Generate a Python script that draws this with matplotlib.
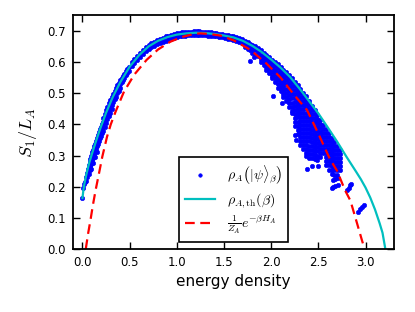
import matplotlib
matplotlib.use("Agg")
import matplotlib.pyplot as plt

plt.rcParams["font.family"] = "DejaVu Sans"
plt.rcParams["mathtext.fontset"] = "cm"
plt.rcParams["lines.scale_dashes"] = False

# thermal entropy curve rho_A,th(beta)
thermal_x = [0.00, 0.01, 0.02, 0.04, 0.07, 0.10, 0.14, 0.19, 0.25, 0.32, 0.40, 0.50,
             0.60, 0.70, 0.80, 0.90, 1.00, 1.10, 1.20, 1.30, 1.40, 1.50, 1.60, 1.70,
             1.80, 1.90, 2.00, 2.10, 2.20, 2.30, 2.40, 2.50, 2.60, 2.70, 2.80, 2.90,
             2.95, 3.00, 3.05, 3.10, 3.15, 3.18, 3.21]
thermal_y = [0.163, 0.190, 0.208, 0.238, 0.275, 0.305, 0.343, 0.388, 0.437, 0.487, 0.535, 0.585,
             0.622, 0.650, 0.668, 0.680, 0.688, 0.692, 0.694, 0.693, 0.690, 0.685, 0.679, 0.668,
             0.652, 0.632, 0.608, 0.582, 0.552, 0.515, 0.475, 0.435, 0.390, 0.344, 0.295, 0.248,
             0.224, 0.197, 0.165, 0.127, 0.082, 0.052, 0.000]

# Gibbs state 1/Z_A exp(-beta H_A)
gibbs_x = [0.035, 0.06, 0.085, 0.11, 0.14, 0.18, 0.21, 0.26, 0.30, 0.35, 0.44, 0.55, 0.68,
           0.80, 0.93, 1.05, 1.18, 1.25, 1.35, 1.46, 1.60, 1.78, 1.95, 2.10, 2.25, 2.38,
           2.50, 2.62, 2.70, 2.78, 2.84, 2.92, 2.96, 2.99]
gibbs_y = [0.000, 0.050, 0.093, 0.140, 0.190, 0.250, 0.296, 0.360, 0.400, 0.440, 0.505, 0.560,
           0.607, 0.640, 0.665, 0.680, 0.690, 0.692, 0.690, 0.685, 0.670, 0.639, 0.595, 0.550,
           0.492, 0.446, 0.370, 0.290, 0.250, 0.190, 0.155, 0.072, 0.030, 0.000]

dots_rise = [
    (0.000, 0.163), (0.010, 0.195), (0.020, 0.208), (0.025, 0.216),
    (0.035, 0.230), (0.035, 0.218), (0.045, 0.244), (0.045, 0.230),
    (0.055, 0.257), (0.055, 0.243), (0.065, 0.269), (0.065, 0.255), (0.065, 0.241),
    (0.075, 0.280), (0.075, 0.266), (0.075, 0.252), (0.085, 0.290), (0.085, 0.276), (0.085, 0.262),
    (0.095, 0.300), (0.095, 0.286), (0.095, 0.272), (0.095, 0.258),
    (0.105, 0.310), (0.105, 0.296), (0.105, 0.282),
    (0.115, 0.319), (0.115, 0.305), (0.115, 0.291), (0.115, 0.276),
    (0.125, 0.329), (0.125, 0.315), (0.125, 0.301),
    (0.135, 0.338), (0.135, 0.324), (0.135, 0.310), (0.135, 0.296),
    (0.145, 0.348), (0.145, 0.334), (0.145, 0.320),
    (0.155, 0.357), (0.155, 0.343), (0.155, 0.329), (0.155, 0.312),
    (0.165, 0.366), (0.165, 0.352), (0.165, 0.338),
    (0.175, 0.375), (0.175, 0.361), (0.175, 0.347),
    (0.185, 0.384), (0.185, 0.370), (0.185, 0.356),
    (0.195, 0.392), (0.195, 0.378), (0.195, 0.364),
    (0.205, 0.400), (0.205, 0.386), (0.205, 0.372),
    (0.220, 0.420), (0.220, 0.407), (0.220, 0.393), (0.220, 0.380),
    (0.235, 0.433), (0.235, 0.420), (0.235, 0.406), (0.235, 0.393),
    (0.250, 0.445), (0.250, 0.432), (0.250, 0.418), (0.250, 0.405),
    (0.265, 0.456), (0.265, 0.443), (0.265, 0.429), (0.265, 0.416),
    (0.280, 0.467), (0.280, 0.454), (0.280, 0.440), (0.280, 0.427),
    (0.295, 0.478), (0.295, 0.465), (0.295, 0.451), (0.295, 0.438),
    (0.310, 0.488), (0.310, 0.475), (0.310, 0.461), (0.310, 0.449),
    (0.325, 0.498), (0.325, 0.485), (0.325, 0.471),
    (0.340, 0.507), (0.340, 0.494), (0.340, 0.480),
    (0.355, 0.516), (0.355, 0.503), (0.355, 0.489),
    (0.370, 0.525), (0.370, 0.512), (0.370, 0.500),
    (0.385, 0.533), (0.385, 0.520), (0.385, 0.508),
    (0.400, 0.541), (0.400, 0.528), (0.400, 0.516),
    (0.415, 0.549), (0.415, 0.536), (0.430, 0.556), (0.430, 0.543),
    (0.445, 0.563), (0.445, 0.550), (0.460, 0.570), (0.460, 0.557),
    (0.475, 0.577), (0.475, 0.564), (0.490, 0.584), (0.490, 0.571),
]
dots_top = [
    (0.52, 0.599), (0.52, 0.586), (0.55, 0.610), (0.55, 0.597),
    (0.58, 0.620), (0.58, 0.607), (0.61, 0.630), (0.61, 0.617),
    (0.64, 0.639), (0.64, 0.626), (0.67, 0.647), (0.67, 0.634),
    (0.70, 0.654), (0.70, 0.641), (0.73, 0.660), (0.73, 0.647),
    (0.76, 0.665), (0.76, 0.652), (0.79, 0.670), (0.79, 0.657),
    (0.82, 0.675), (0.82, 0.662), (0.85, 0.678), (0.85, 0.665),
    (0.88, 0.682), (0.88, 0.669), (0.91, 0.685), (0.91, 0.672),
    (0.94, 0.688), (0.94, 0.675), (0.97, 0.690), (0.97, 0.677),
    (1.00, 0.692), (1.00, 0.679), (1.03, 0.693), (1.03, 0.682),
    (1.06, 0.695), (1.06, 0.684), (1.09, 0.696), (1.09, 0.685),
    (1.12, 0.697), (1.12, 0.686), (1.15, 0.697), (1.15, 0.686),
    (1.18, 0.698), (1.18, 0.687), (1.21, 0.698), (1.21, 0.687),
    (1.24, 0.698), (1.24, 0.687), (1.27, 0.697), (1.27, 0.686),
    (1.30, 0.697), (1.30, 0.686), (1.33, 0.696), (1.33, 0.685),
    (1.36, 0.695), (1.36, 0.684), (1.39, 0.694), (1.39, 0.683),
    (1.42, 0.693), (1.42, 0.682), (1.45, 0.691), (1.45, 0.680),
    (1.48, 0.690), (1.48, 0.679), (1.51, 0.688), (1.51, 0.677),
    (1.54, 0.686), (1.54, 0.675), (1.57, 0.684), (1.57, 0.673),
    (1.60, 0.682), (1.60, 0.671), (1.63, 0.679), (1.63, 0.668),
    (1.66, 0.676), (1.66, 0.665), (1.69, 0.673), (1.69, 0.662),
    (1.72, 0.669), (1.72, 0.658), (1.72, 0.648),
    (1.75, 0.664), (1.75, 0.653), (1.75, 0.643),
    (1.78, 0.659), (1.78, 0.648), (1.78, 0.637),
]
dots_fall = [
    (1.80, 0.655), (1.80, 0.642), (1.80, 0.630),
    (1.83, 0.650), (1.83, 0.637), (1.83, 0.624),
    (1.86, 0.644), (1.86, 0.631), (1.86, 0.618),
    (1.89, 0.637), (1.89, 0.624), (1.89, 0.611), (1.89, 0.600),
    (1.92, 0.630), (1.92, 0.617), (1.92, 0.604), (1.92, 0.591),
    (1.95, 0.623), (1.95, 0.610), (1.95, 0.597), (1.95, 0.584), (1.95, 0.575),
    (1.98, 0.616), (1.98, 0.603), (1.98, 0.590), (1.98, 0.577), (1.98, 0.564),
    (2.01, 0.608), (2.01, 0.595), (2.01, 0.582), (2.01, 0.569), (2.01, 0.556), (2.01, 0.548),
    (2.04, 0.601), (2.04, 0.588), (2.04, 0.575), (2.04, 0.562), (2.04, 0.549), (2.04, 0.536),
    (2.07, 0.593), (2.07, 0.580), (2.07, 0.567), (2.07, 0.554), (2.07, 0.541), (2.07, 0.528),
    (2.07, 0.518),
    (2.10, 0.585), (2.10, 0.572), (2.10, 0.559), (2.10, 0.546), (2.10, 0.533), (2.10, 0.520),
    (2.10, 0.507),
    (2.13, 0.576), (2.13, 0.563), (2.13, 0.550), (2.13, 0.537), (2.13, 0.524), (2.13, 0.511),
    (2.13, 0.498), (2.13, 0.488),
    (2.16, 0.567), (2.16, 0.554), (2.16, 0.541), (2.16, 0.528), (2.16, 0.515), (2.16, 0.502),
    (2.16, 0.489), (2.16, 0.476),
    (2.19, 0.558), (2.19, 0.545), (2.19, 0.532), (2.19, 0.519), (2.19, 0.506), (2.19, 0.493),
    (2.19, 0.480), (2.19, 0.467), (2.19, 0.455),
    (2.22, 0.548), (2.22, 0.535), (2.22, 0.522), (2.22, 0.509), (2.22, 0.496), (2.22, 0.483),
    (2.22, 0.470), (2.22, 0.457), (2.22, 0.444), (2.22, 0.435),
    (2.25, 0.537), (2.25, 0.524), (2.25, 0.511), (2.25, 0.498), (2.25, 0.485), (2.25, 0.472),
    (2.25, 0.459), (2.25, 0.446), (2.25, 0.433), (2.25, 0.420), (2.25, 0.407), (2.25, 0.396),
    (2.28, 0.526), (2.28, 0.513), (2.28, 0.500), (2.28, 0.487), (2.28, 0.474), (2.28, 0.461),
    (2.28, 0.448), (2.28, 0.435), (2.28, 0.422), (2.28, 0.409), (2.28, 0.396), (2.28, 0.383),
    (2.28, 0.370),
    (2.31, 0.514), (2.31, 0.501), (2.31, 0.488), (2.31, 0.475), (2.31, 0.462), (2.31, 0.449),
    (2.31, 0.436), (2.31, 0.423), (2.31, 0.410), (2.31, 0.397), (2.31, 0.384), (2.31, 0.371),
    (2.31, 0.358), (2.31, 0.345), (2.31, 0.335),
    (2.34, 0.502), (2.34, 0.489), (2.34, 0.476), (2.34, 0.463), (2.34, 0.450), (2.34, 0.437),
    (2.34, 0.424), (2.34, 0.411), (2.34, 0.398), (2.34, 0.385), (2.34, 0.372), (2.34, 0.359),
    (2.34, 0.346), (2.34, 0.333), (2.34, 0.320),
    (2.37, 0.490), (2.37, 0.477), (2.37, 0.464), (2.37, 0.451), (2.37, 0.438), (2.37, 0.425),
    (2.37, 0.412), (2.37, 0.399), (2.37, 0.386), (2.37, 0.373), (2.37, 0.360), (2.37, 0.347),
    (2.37, 0.334), (2.37, 0.321), (2.37, 0.308), (2.37, 0.298),
    (2.40, 0.475), (2.40, 0.462), (2.40, 0.449), (2.40, 0.436), (2.40, 0.423), (2.40, 0.410),
    (2.40, 0.397), (2.40, 0.384), (2.40, 0.371), (2.40, 0.358), (2.40, 0.345), (2.40, 0.332),
    (2.40, 0.319), (2.40, 0.306), (2.40, 0.293),
    (2.43, 0.460), (2.43, 0.447), (2.43, 0.434), (2.43, 0.421), (2.43, 0.408), (2.43, 0.395),
    (2.43, 0.382), (2.43, 0.369), (2.43, 0.356), (2.43, 0.343), (2.43, 0.330), (2.43, 0.317),
    (2.43, 0.304), (2.43, 0.291),
    (2.46, 0.445), (2.46, 0.432), (2.46, 0.419), (2.46, 0.406), (2.46, 0.393), (2.46, 0.380),
    (2.46, 0.367), (2.46, 0.354), (2.46, 0.341), (2.46, 0.328), (2.46, 0.315), (2.46, 0.302),
    (2.46, 0.289),
    (2.49, 0.430), (2.49, 0.417), (2.49, 0.404), (2.49, 0.391), (2.49, 0.378), (2.49, 0.365),
    (2.49, 0.352), (2.49, 0.339), (2.49, 0.326), (2.49, 0.313), (2.49, 0.300), (2.49, 0.287),
    (2.52, 0.413), (2.52, 0.400), (2.52, 0.387), (2.52, 0.374), (2.52, 0.361), (2.52, 0.348),
    (2.52, 0.335), (2.52, 0.322), (2.52, 0.309), (2.52, 0.296),
    (2.55, 0.398), (2.55, 0.385), (2.55, 0.372), (2.55, 0.359), (2.55, 0.346), (2.55, 0.333),
    (2.55, 0.320), (2.55, 0.307),
    (2.58, 0.385), (2.58, 0.372), (2.58, 0.359), (2.58, 0.346), (2.58, 0.333), (2.58, 0.320),
    (2.58, 0.307), (2.58, 0.294), (2.58, 0.281), (2.58, 0.268),
    (2.61, 0.372), (2.61, 0.359), (2.61, 0.346), (2.61, 0.333), (2.61, 0.320), (2.61, 0.307),
    (2.61, 0.294), (2.61, 0.281), (2.61, 0.268), (2.61, 0.255),
    (2.64, 0.357), (2.64, 0.344), (2.64, 0.331), (2.64, 0.318), (2.64, 0.305), (2.64, 0.292),
    (2.64, 0.279), (2.64, 0.266), (2.64, 0.253), (2.64, 0.240),
    (2.67, 0.343), (2.67, 0.330), (2.67, 0.317), (2.67, 0.304), (2.67, 0.291), (2.67, 0.278),
    (2.67, 0.265), (2.67, 0.252), (2.67, 0.239),
    (2.70, 0.330), (2.70, 0.317), (2.70, 0.304), (2.70, 0.291), (2.70, 0.278), (2.70, 0.265),
    (2.70, 0.252), (2.70, 0.239),
    (2.73, 0.318), (2.73, 0.305), (2.73, 0.292), (2.73, 0.279), (2.73, 0.266), (2.73, 0.253),
]
dots_stray = [
    (1.78, 0.604), (1.82, 0.617), (2.02, 0.492), (2.11, 0.468),
    (2.25, 0.366), (2.26, 0.350), (2.38, 0.256), (2.43, 0.266), (2.50, 0.267),
    (2.66, 0.220), (2.68, 0.224), (2.71, 0.228),
    (2.64, 0.195), (2.66, 0.198), (2.68, 0.201), (2.71, 0.205),
    (2.80, 0.190), (2.82, 0.197), (2.84, 0.204), (2.85, 0.210),
    (2.92, 0.120), (2.94, 0.127), (2.96, 0.134), (2.98, 0.141),
]

labels = [r"$\rho_A\left(|\psi\rangle_\beta\right)$",
          r"$\rho_{A,\mathrm{th}}(\beta)$",
          r"$\frac{1}{Z_A}e^{-\beta H_A}$"]

fig = plt.figure(figsize=(4.15, 3.12), dpi=100)
ax = fig.add_axes([0.176, 0.202, 0.773, 0.749])

dots = dots_rise + dots_top + dots_fall + dots_stray
ax.plot([p[0] for p in dots], [p[1] for p in dots], "o", color="#0000ff",
        ms=3.2, mew=0.4, mec="#0000ff", label=labels[0])
ax.plot(thermal_x, thermal_y, color="#00bfbf", lw=1.6, label=labels[1])
ax.plot(gibbs_x, gibbs_y, color="#ff0000", lw=1.6, dashes=(7, 4), label=labels[2])

ax.set_xlim(-0.1, 3.3)
ax.set_ylim(0, 0.75)
ax.set_xticks([0.0, 0.5, 1.0, 1.5, 2.0, 2.5, 3.0])
ax.set_yticks([0.0, 0.1, 0.2, 0.3, 0.4, 0.5, 0.6, 0.7])
ax.xaxis.set_major_formatter(matplotlib.ticker.FormatStrFormatter("%.1f"))
ax.yaxis.set_major_formatter(matplotlib.ticker.FormatStrFormatter("%.1f"))
ax.tick_params(direction="in", top=True, right=True, length=5, width=1,
               labelsize=8.5, pad=5)
for sp in ax.spines.values():
    sp.set_linewidth(1.3)

ax.set_xlabel("energy density", fontsize=11, labelpad=4)
ax.set_ylabel(r"$S_1/L_A$", fontsize=13, labelpad=6)

leg = ax.legend(loc="lower center", numpoints=1, fontsize=10, fancybox=False,
                framealpha=1, edgecolor="black", borderpad=0.4, labelspacing=0.3,
                handlelength=2.2, handletextpad=0.8, borderaxespad=0.5,
                markerscale=0.8)
leg.get_frame().set_linewidth(1.2)

fig.savefig("out.png", dpi=100)
